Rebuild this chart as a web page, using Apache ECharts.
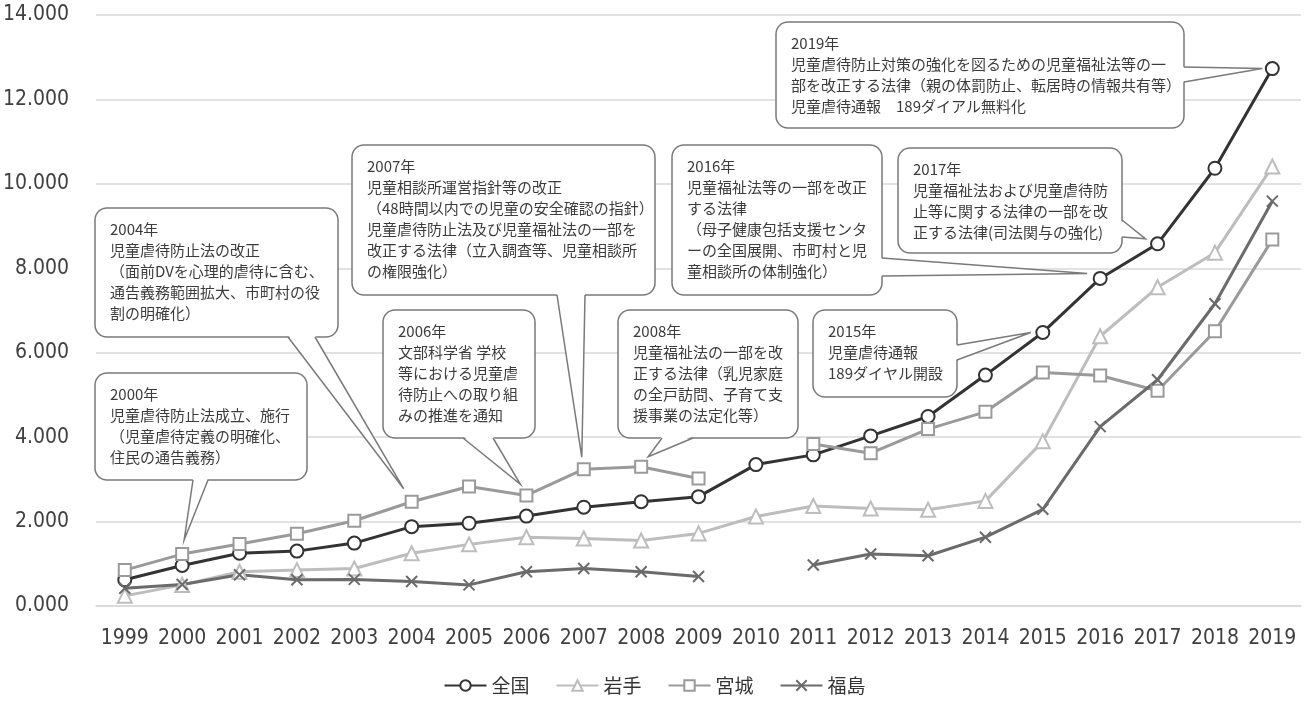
<!DOCTYPE html>
<html>
<head>
<meta charset="utf-8">
<script src="https://cdn.jsdelivr.net/npm/echarts@6/dist/echarts.min.js"></script>
<style>
  html, body { margin: 0; padding: 0; background: #fff; }
  #chart { width: 1309px; height: 702px; }
</style>
</head>
<body>
<div id="chart"></div>
<script>
// Years on the category axis
const years = ['1999','2000','2001','2002','2003','2004','2005','2006','2007','2008','2009',
               '2010','2011','2012','2013','2014','2015','2016','2017','2018','2019'];

// Values per series (null = no data that year)
const zenkoku   = [0.62, 0.96, 1.25, 1.30, 1.49, 1.88, 1.96, 2.13, 2.34, 2.47, 2.59,
                   3.35, 3.58, 4.03, 4.49, 5.47, 6.48, 7.76, 8.58, 10.37, 12.73];
const iwate     = [0.24, 0.50, 0.81, 0.85, 0.89, 1.25, 1.46, 1.63, 1.60, 1.55, 1.72,
                   2.12, 2.37, 2.31, 2.28, 2.49, 3.90, 6.39, 7.55, 8.37, 10.41];
const miyagi    = [0.85, 1.23, 1.47, 1.71, 2.02, 2.47, 2.83, 2.62, 3.24, 3.30, 3.02,
                   null, 3.84, 3.62, 4.19, 4.60, 5.53, 5.46, 5.10, 6.51, 8.68];
const fukushima = [0.42, 0.51, 0.74, 0.62, 0.63, 0.58, 0.50, 0.81, 0.89, 0.81, 0.70,
                   null, 0.97, 1.23, 1.19, 1.63, 2.29, 4.25, 5.36, 7.16, 9.59];

const seriesNames = ['全国', '岩手', '宮城', '福島'];

// Value axis range
const yMin = 0, yMax = 14, yStep = 2;

// Callout notes: text, and the point each one refers to
const notes = [
  { text: ['2000年', '児童虐待防止法成立、施行', '（児童虐待定義の明確化、', '住民の通告義務）'], series: 2, year: '2000' },
  { text: ['2004年', '児童虐待防止法の改正', '（面前DVを心理的虐待に含む、', '通告義務範囲拡大、市町村の役', '割の明確化）'], series: 2, year: '2004' },
  { text: ['2006年', '文部科学省 学校', '等における児童虐', '待防止への取り組', 'みの推進を通知'], series: 2, year: '2006' },
  { text: ['2007年', '児童相談所運営指針等の改正', '（48時間以内での児童の安全確認の指針）', '児童虐待防止法及び児童福祉法の一部を', '改正する法律（立入調査等、児童相談所', 'の権限強化）'], series: 2, year: '2007' },
  { text: ['2008年', '児童福祉法の一部を改', '正する法律（乳児家庭', 'の全戸訪問、子育て支', '援事業の法定化等）'], series: 2, year: '2008' },
  { text: ['2015年', '児童虐待通報', '189ダイヤル開設'], series: 0, year: '2015' },
  { text: ['2016年', '児童福祉法等の一部を改正', 'する法律', '（母子健康包括支援センタ', 'ーの全国展開、市町村と児', '童相談所の体制強化）'], series: 0, year: '2016' },
  { text: ['2017年', '児童福祉法および児童虐待防', '止等に関する法律の一部を改', '正する法律(司法関与の強化)'], series: 0, year: '2017' },
  { text: ['2019年', '児童虐待防止対策の強化を図るための児童福祉法等の一', '部を改正する法律（親の体罰防止、転居時の情報共有等）', '児童虐待通報　189ダイアル無料化'], series: 0, year: '2019' }
];

// Callout layout: box [x1, y1, x2, y2], tail side and its two base offsets, tip offset from the point
const noteLayout = [
  { box: [95, 373, 307, 480],   side: 'bottom', base: [193, 208], tip: [2, -14] },
  { box: [95, 208, 338, 337],   side: 'bottom', base: [288, 315], tip: [-8, -13] },
  { box: [383, 310, 535, 438],  side: 'bottom', base: [463, 493], tip: [-6, -11] },
  { box: [352, 145, 655, 295],  side: 'bottom', base: [557, 585], tip: [-2, -12] },
  { box: [618, 310, 798, 438],  side: 'bottom', base: [662, 693], tip: [7, -10] },
  { box: [813, 310, 957, 397],  side: 'right',  base: [345, 360], tip: [-12, 0] },
  { box: [672, 145, 882, 295],  side: 'right',  base: [258, 276], tip: [-13, -5] },
  { box: [898, 148, 1122, 253], side: 'right',  base: [220, 237], tip: [-12, -5] },
  { box: [776, 22, 1184, 128],  side: 'right',  base: [67, 82],   tip: [-10, 0] }
];

const axisFont = "'Liberation Sans Narrow', 'DejaVu Sans Condensed', sans-serif";
const jpFont = "'Noto Sans CJK JP', sans-serif";

const chart = echarts.init(document.getElementById('chart'), null, { renderer: 'canvas' });

function lineSeries(name, data, color, symbol, size) {
  return {
    name: name,
    type: 'line',
    data: data,
    symbol: symbol,
    symbolSize: size,
    connectNulls: false,
    lineStyle: { color: color, width: 3 },
    itemStyle: { color: '#fff', borderColor: color, borderWidth: 2 },
    emphasis: { disabled: true },
    animation: false
  };
}

const xMark = lineSeries(seriesNames[3], fukushima, '#6b6b6b', 'path://M0,0L10,10M10,0L0,10', 11);
xMark.itemStyle = { color: '#6b6b6b', borderColor: '#6b6b6b', borderWidth: 2 };

const option = {
  backgroundColor: '#fff',
  animation: false,
  grid: { left: 95, right: 8, top: 15, bottom: 96, containLabel: false },
  xAxis: {
    type: 'category',
    data: years,
    boundaryGap: true,
    axisLine: { show: true, lineStyle: { color: '#d9d9d9', width: 1.5 } },
    axisTick: { show: false },
    axisLabel: { color: '#404040', fontSize: 21, fontFamily: axisFont, margin: 22, interval: 0 }
  },
  yAxis: {
    type: 'value',
    min: yMin, max: yMax, interval: yStep,
    axisLine: { show: false },
    axisTick: { show: false },
    splitLine: { lineStyle: { color: '#d9d9d9', width: 1.5 } },
    axisLabel: {
      color: '#404040', fontSize: 21, fontFamily: axisFont, margin: 27,
      formatter: v => v.toFixed(3)
    }
  },
  legend: {
    bottom: 2,
    left: 'center',
    itemWidth: 42,
    itemHeight: 13,
    itemGap: 26,
    textStyle: { color: '#333', fontSize: 19, fontFamily: jpFont },
    data: seriesNames
  },
  series: [
    lineSeries(seriesNames[0], zenkoku, '#333333', 'circle', 13),
    lineSeries(seriesNames[1], iwate, '#bdbdbd', 'triangle', 14),
    lineSeries(seriesNames[2], miyagi, '#9a9a9a', 'rect', 12),
    xMark
  ]
};

chart.setOption(option);

// Callout boxes with speech-bubble tails pointing at their data points
const seriesData = [zenkoku, iwate, miyagi, fukushima];
const graphics = [];
notes.forEach((note, i) => {
  const lay = noteLayout[i];
  const idx = years.indexOf(note.year);
  const pt = chart.convertToPixel({ seriesIndex: note.series }, [idx, seriesData[note.series][idx]]);
  const tip = [pt[0] + lay.tip[0], pt[1] + lay.tip[1]];
  const [x1, y1, x2, y2] = lay.box;
  let b1, b2, c1, c2;
  if (lay.side === 'bottom') {
    b1 = [lay.base[0], y2]; b2 = [lay.base[1], y2];
    c1 = [lay.base[0], y2 - 2]; c2 = [lay.base[1], y2 - 2];
  } else {
    b1 = [x2, lay.base[0]]; b2 = [x2, lay.base[1]];
    c1 = [x2 - 2, lay.base[0]]; c2 = [x2 - 2, lay.base[1]];
  }
  graphics.push({
    type: 'rect', z: 100,
    shape: { x: x1, y: y1, width: x2 - x1, height: y2 - y1, r: 12 },
    style: { fill: '#fff', stroke: '#7a7a7a', lineWidth: 1.5 }
  });
  graphics.push({
    type: 'polygon', z: 101,
    shape: { points: [c1, tip, c2] },
    style: { fill: '#fff', stroke: null }
  });
  graphics.push({
    type: 'polyline', z: 102,
    shape: { points: [b1, tip, b2] },
    style: { fill: null, stroke: '#7a7a7a', lineWidth: 1.5 }
  });
  graphics.push({
    type: 'text', z: 103,
    x: x1 + 15, y: y1 + 11,
    style: {
      text: note.text.join('\n'),
      font: '15px ' + jpFont,
      fill: '#3c3c3c',
      lineHeight: 21,
      verticalAlign: 'top'
    }
  });
});

chart.setOption({ graphic: graphics });
</script>
</body>
</html>
